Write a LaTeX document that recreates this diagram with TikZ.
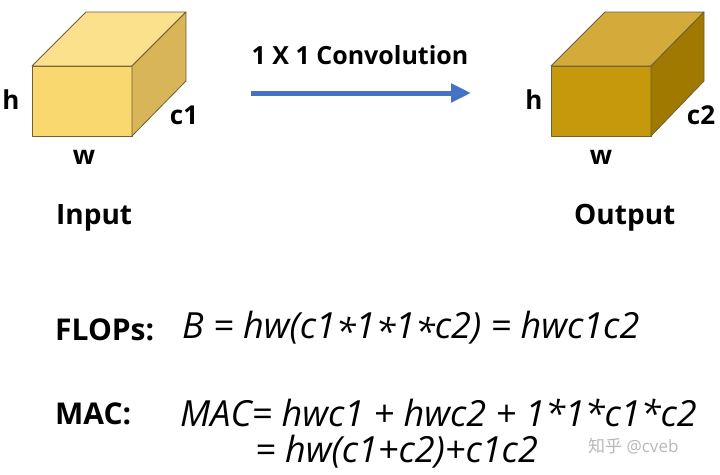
\documentclass[tikz,border=0pt]{standalone}
\usepackage{fontspec}
\setmainfont{Open Sans}
\newfontfamily\cjk{Noto Sans CJK SC}
\usetikzlibrary{arrows.meta}
\definecolor{yfront}{RGB}{250,216,112}
\definecolor{ytop}{RGB}{252,225,140}
\definecolor{yside}{RGB}{216,181,88}
\definecolor{gfront}{RGB}{198,152,12}
\definecolor{gtop}{RGB}{212,170,58}
\definecolor{gside}{RGB}{160,122,0}
\definecolor{edge}{RGB}{110,95,55}
\definecolor{arrowblue}{RGB}{68,114,196}
\tikzset{
  face/.style={draw=edge, line width=0.8pt, line join=round},
  lbl/.style={font=\fontsize{26}{28}\selectfont\bfseries, inner sep=0pt},
  title/.style={font=\fontsize{28}{30}\selectfont\bfseries, inner sep=0pt},
  ftitle/.style={font=\fontsize{30}{32}\selectfont\bfseries, inner sep=0pt},
  formula/.style={font=\fontsize{36}{40}\selectfont\itshape, inner sep=0pt},
}
\begin{document}
\begin{tikzpicture}[x=1pt,y=-1pt]
\useasboundingbox[fill=white] (0,0) rectangle (720,474);
% left cube
\filldraw[face, fill=yfront] (32,66) rectangle (132,136);
\filldraw[face, fill=ytop] (32,66) -- (86,12) -- (186,12) -- (132,66) -- cycle;
\filldraw[face, fill=yside] (132,66) -- (186,12) -- (186,81) -- (132,136) -- cycle;
\node[lbl] (h1) at (11,100) {h};
\node[lbl] (c1) at (184,115) {c1};
\node[lbl] (w1) at (84,157) {w};
% right cube
\filldraw[face, fill=gfront] (551,66) rectangle (651,136);
\filldraw[face, fill=gtop] (551,66) -- (605,12) -- (704,12) -- (651,66) -- cycle;
\filldraw[face, fill=gside] (651,66) -- (704,12) -- (704,81) -- (651,136) -- cycle;
\node[lbl] (h2) at (534,100) {h};
\node[lbl] (c2) at (701,115) {c2};
\node[lbl] (w2) at (601,157) {w};
% arrow
\coordinate (as) at (251,93);
\coordinate (ae) at (471,93);
\draw[arrowblue, line width=5pt, -{Triangle[length=20pt,width=18pt]}] (as) -- (ae);
\node[font=\fontsize{25}{28}\selectfont\bfseries, inner sep=0pt] (conv) at (360,55) {1 X 1 Convolution};
% titles
\node[title, anchor=west] (in) at (56,218) {Input};
\node[title, anchor=west] (out) at (574,218) {Output};
% formulas
\node[ftitle, anchor=west] (flops) at (55,330) {FLOPs:};
\node[formula, anchor=west] (f1) at (182,328) {B = hw(c1\raisebox{-0.3ex}{*}1\raisebox{-0.3ex}{*}1\raisebox{-0.3ex}{*}c2) = hwc1c2};
\node[ftitle, anchor=west] (mac) at (55,414) {MAC:};
\node[formula, anchor=base west] (f2) at (180,426) {MAC= hwc1 + hwc2 + 1*1*c1*c2};
\node[formula, anchor=west] (f3) at (255,452) {= hw(c1+c2)+c1c2};
\node[font=\fontsize{17}{18}\selectfont, text=black!28, inner sep=0pt, anchor=west] (wm) at (588,446) {{\cjk 知乎} @cveb};
\end{tikzpicture}
\end{document}
